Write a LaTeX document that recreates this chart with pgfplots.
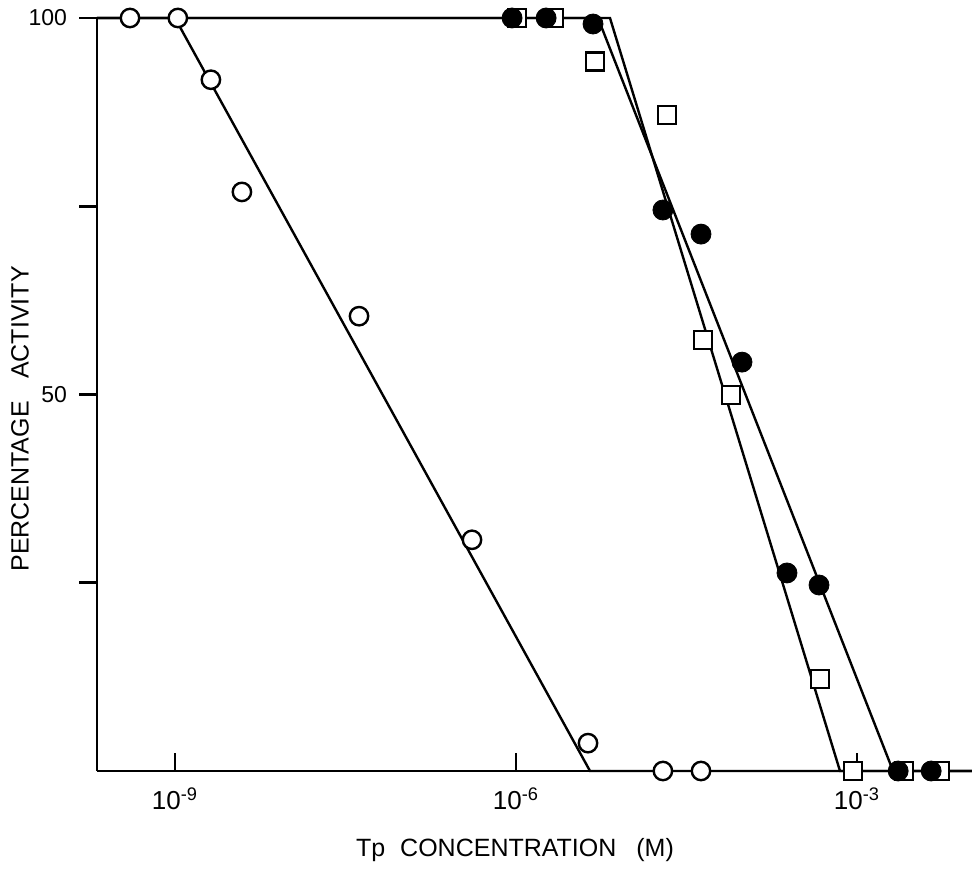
\documentclass[border=0pt]{standalone}
\usepackage{fontspec}
\setmainfont{Liberation Sans}
\usepackage{pgfplots}
\pgfplotsset{compat=1.18}
\begin{document}
\begin{tikzpicture}
\useasboundingbox (-48.5pt,-49.5pt) rectangle (437.5pt,385.5pt);
\begin{axis}[
  at={(0pt,0pt)}, anchor=south west,
  scale only axis, width=437.5pt, height=376.5pt,
  xmode=log, log basis x=10,
  xmin=2.06e-10, xmax=1.026e-2, ymin=0, ymax=100,
  enlargelimits=false, clip=false,
  axis x line=bottom, axis y line=left,
  axis line style={-, line width=1.4pt},
  xtick={1e-9,1e-6,1e-3},
  xticklabels={10\textsuperscript{-9},10\textsuperscript{-6},10\textsuperscript{-3}},
  minor xtick={},
  ytick={25,50,75,100}, yticklabels={,50,,100},
  xtick align=inside, ytick align=outside,
  major tick length=9pt,
  tick style={line width=1.3pt, black},
  /pgf/number format/assume math mode=true,
  xticklabel style={font=\fontsize{13}{15}\selectfont, yshift=-5pt},
  yticklabel style={font=\fontsize{11.5}{14}\selectfont, xshift=-2.5pt},
  xlabel={Tp\hspace{0.6em}CONCENTRATION\hspace{0.8em}(M)},
  ylabel={PERCENTAGE\hspace{0.9em}ACTIVITY},
  every axis x label/.style={at={(axis description cs:0.4777,-0.1049)}, anchor=center, font=\fontsize{12.5}{15}\selectfont},
  every axis y label/.style={at={(axis description cs:-0.088,0.4675)}, rotate=90, anchor=center, font=\fontsize{12.5}{15}\selectfont},
]
% fitted lines
\addplot[no markers, line width=1.2pt] coordinates {(2.06e-10,100) (1e-9,100) (4.477e-6,0) (1.026e-2,0)};
\addplot[no markers, line width=1.2pt] coordinates {(2.06e-10,100) (5.26e-6,100) (2.075e-3,0) (1.026e-2,0)};
\addplot[no markers, line width=1.2pt] coordinates {(2.06e-10,100) (6.71e-6,100) (7.08e-4,0) (1.026e-2,0)};
% open circles
\addplot[only marks, mark=*, mark size=4.6pt, mark options={fill=white, draw=black, line width=1.2pt}] coordinates {
(4.02e-10,100) (1.06e-9,100) (2.07e-9,91.8) (3.88e-9,76.9) (4.16e-8,60.4) (4.10e-7,30.7) (4.30e-6,3.7) (1.96e-5,0) (4.24e-5,0)};
% open squares
\addplot[only marks, mark=square*, mark size=4.5pt, mark options={fill=white, draw=black, line width=1.2pt}] coordinates {
(1.02e-6,100) (2.16e-6,100) (4.95e-6,94.2) (2.13e-5,87.1) (4.42e-5,57.2) (7.78e-5,49.9) (4.72e-4,12.2) (9.23e-4,0) (2.59e-3,0) (5.37e-3,0)};
% filled circles
\addplot[only marks, mark=*, mark size=5pt, mark options={fill=black, draw=black}] coordinates {
(9.23e-7,100) (1.84e-6,100) (4.76e-6,99.2) (1.96e-5,74.5) (4.24e-5,71.3) (9.73e-5,54.3) (2.42e-4,26.3) (4.63e-4,24.7) (2.30e-3,0) (4.49e-3,0)};
\end{axis}
\end{tikzpicture}
\end{document}
